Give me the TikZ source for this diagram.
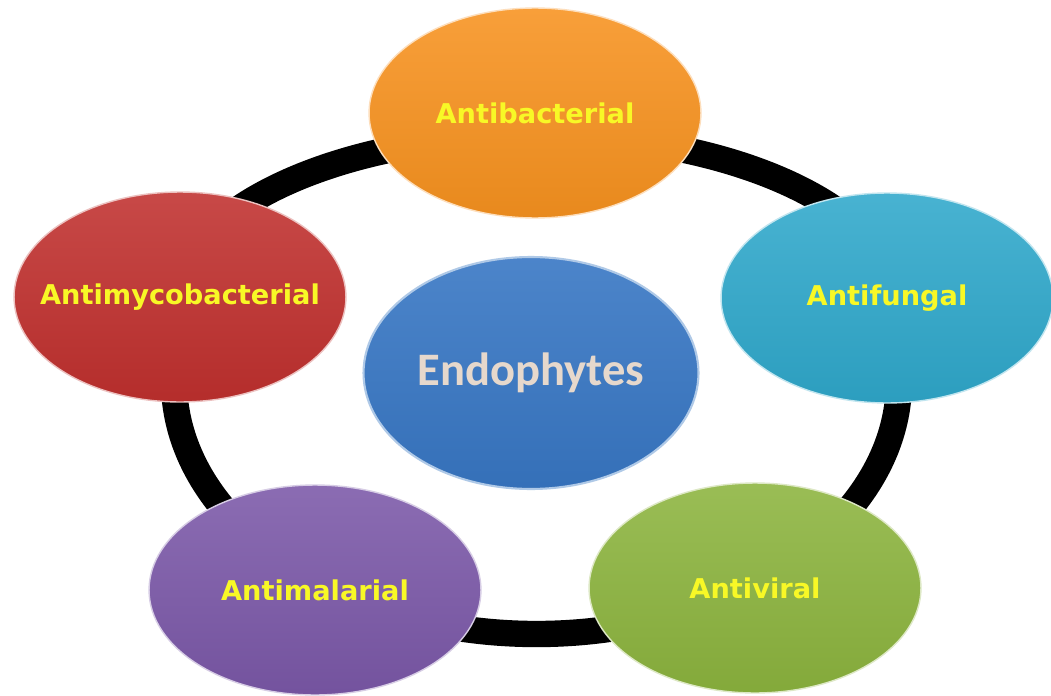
\documentclass[tikz,border=0pt]{standalone}
\usepackage{fontspec}
\setmainfont{DejaVu Sans}
\newfontfamily\centrefont{Carlito}
\usetikzlibrary{shapes.geometric}
\definecolor{corange}{HTML}{F7921F}
\definecolor{cteal}{HTML}{2FA8CB}
\definecolor{cgreen}{HTML}{8CB43E}
\definecolor{cpurple}{HTML}{7B58A8}
\definecolor{cred}{HTML}{C0302E}
\definecolor{cblue}{HTML}{3877C4}
\definecolor{ctext}{HTML}{F8F826}
\definecolor{cendo}{HTML}{E6D8CC}
\newcommand{\lbl}[1]{\makebox[0pt][c]{#1}}
\tikzset{
  bubble/.style={ellipse, minimum width=6.64cm, minimum height=4.2cm, inner sep=0pt,
    draw=white!70!#1, line width=0.8pt, top color=#1!88!white, bottom color=#1!94!black,
    font=\bfseries\fontsize{15.5}{18}\selectfont, text=ctext},
  centre/.style={ellipse, minimum width=6.7cm, minimum height=4.64cm, inner sep=0pt,
    draw=white!60!cblue, line width=1.2pt, top color=cblue!90!white, bottom color=cblue!94!black,
    font=\centrefont\bfseries\fontsize{26.5}{30}\selectfont, text=cendo},
  ring/.style={draw=black, line width=15pt}
}
\begin{document}
\begin{tikzpicture}[x=0.02cm, y=-0.02cm]
\useasboundingbox (0,0) rectangle (1051,696);
\fill[white] (0,0) rectangle (1051,696);
\draw[ring] (174,307) -- (174,381)
  arc[start angle=180, end angle=0, x radius=362.5, y radius=253]
  -- (899,307)
  arc[start angle=0, end angle=-180, x radius=362.5, y radius=172] -- cycle;
\node[bubble=corange] (abac) at (535,113) {\lbl{Antibacterial}};
\node[bubble=cteal] (afun) at (887,298) {\lbl{Antifungal}};
\node[bubble=cgreen] (avir) at (755,588) {\lbl{Antiviral}};
\node[bubble=cpurple] (amal) at (315,590) {\lbl{Antimalarial}};
\node[bubble=cred] (amyc) at (180,297) {\lbl{Antimycobacterial}};
\node[centre] (endo) at (531,373) {\raisebox{-0.45ex}{\lbl{Endophytes}}};
\end{tikzpicture}
\end{document}
